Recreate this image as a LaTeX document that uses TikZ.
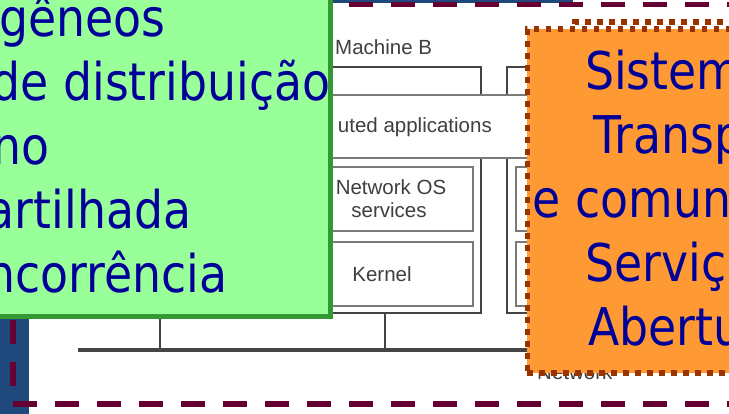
\documentclass[tikz,border=0pt]{standalone}
\usepackage{fontspec}
\setmainfont{Liberation Sans}
\newfontfamily\tah[FakeStretch=0.88]{DejaVu Sans}
\definecolor{bluebg}{HTML}{1F497D}
\definecolor{maroonc}{HTML}{660033}
\definecolor{framegray}{HTML}{444444}
\definecolor{boxgray}{HTML}{7A7A7A}
\definecolor{txtgray}{HTML}{3F3F3F}
\definecolor{greenfill}{HTML}{99FF99}
\definecolor{greenline}{HTML}{339933}
\definecolor{orangefill}{HTML}{FF9933}
\definecolor{orangeline}{HTML}{993300}
\definecolor{navytext}{HTML}{000099}
\tikzset{
  machine/.style={draw=framegray, line width=2.3pt, minimum width=192pt, minimum height=246pt, inner sep=0, outer sep=0},
  band/.style={draw=boxgray, fill=white, line width=1.3pt, minimum width=660pt, minimum height=63pt, inner sep=0, outer sep=0},
  inbox/.style={draw=boxgray, fill=white, line width=1.3pt, minimum width=176pt, minimum height=64pt, inner sep=0, outer sep=0},
  lbl/.style={text=txtgray, font=\fontsize{20.5}{23.5}\selectfont, inner sep=0, align=center},
  netline/.style={draw=framegray, line width=3.3pt},
  conn/.style={draw=framegray, line width=2.3pt},
  maroondash/.style={draw=maroonc, line width=5.5pt, dash pattern=on 24pt off 18pt},
  greenbox/.style={draw=greenline, fill=greenfill, line width=5pt, inner sep=0},
  orangebox/.style={draw=orangeline, fill=orangefill, line width=5.5pt, dash pattern=on 5.7pt off 6.3pt, inner sep=0},
  dotbox/.style={draw=orangeline, fill=white, line width=5.5pt, dash pattern=on 5.7pt off 6.3pt, inner sep=0},
  bigtext/.style={text=navytext, font=\tah\fontsize{52}{64}\selectfont, inner sep=0},
}
\begin{document}
\begin{tikzpicture}[x=1pt,y=-1pt]
\useasboundingbox (0,0) rectangle (729,414);
\clip (0,0) rectangle (729,414);
% background
\fill[bluebg] (0,0) rectangle (573,414);
\fill[white] (29,3.5) rectangle (760,440);
% machines
\node[machine] (mA) at (160,190) {};
\node[machine] (mB) at (385,190) {};
\node[machine] (mC) at (603,190) {};
\node[band] (apps) at (385,126.5) {};
\node[lbl, anchor=base east] (appstxt) at (492,133) {uted applications};
\node[inbox] (nosB) at (385,199) {};
\node[inbox] (kerB) at (385,274) {};
\node[inbox] (nosC) at (604,199) {};
\node[inbox] (kerC) at (604,274) {};
\node[lbl, anchor=base] (nosBt1) at (391,195) {Network OS};
\node[lbl, anchor=base] (nosBt2) at (389,218) {services};
\node[lbl, anchor=base] (kerBt) at (382,282) {Kernel};
\node[lbl, anchor=base west] (mBt) at (335,55) {Machine B};
% network
\coordinate (netL) at (78,350);
\coordinate (netR) at (720,350);
\draw[netline] (netL) -- (netR);
\draw[conn] (mA.south) -- (mA.south |- netL);
\draw[conn] (mB.south) -- (mB.south |- netL);
\draw[conn] (mC.south) -- (mC.south |- netL);
\node[lbl, anchor=base west] (nett) at (537,380) {Network};
% maroon dashed frame
\draw[maroondash] (13,4.5) -- (760,4.5);
\draw[maroondash] (13,404) -- (760,404);
\draw[maroondash, dash phase=24pt] (13,404) -- (13,4.5);
% dotted box behind orange
\node[dotbox, minimum width=220pt, minimum height=320pt, anchor=north west] (dbox) at (572,19.5) {};
% orange box
\node[orangebox, minimum width=260pt, minimum height=344pt, anchor=north west] (obox) at (524.5,26.5) {};
\node[bigtext, anchor=base west] (o1) at (585,90) {Sistem};
\node[bigtext, anchor=base west] (o2) at (593,154) {Transp};
\node[bigtext, anchor=base west] (o3) at (532.5,218) {e comun};
\node[bigtext, anchor=base west] (o4) at (585,282) {Serviç};
\node[bigtext, anchor=base west] (o5) at (588,346) {Abertu};
% green box
\node[greenbox, minimum width=400pt, minimum height=360pt, anchor=south east] (gbox) at (332.5,319.5) {};
\node[bigtext, anchor=base east] (g1) at (165.5,37) {gêneos};
\node[bigtext, anchor=base east] (g2) at (330.5,101) {de distribuição};
\node[bigtext, anchor=base east] (g3) at (49.5,165) {no};
\node[bigtext, anchor=base east] (g4) at (191.5,229) {artilhada};
\node[bigtext, anchor=base east] (g5) at (227.5,293) {ncorrência};
\end{tikzpicture}
\end{document}
